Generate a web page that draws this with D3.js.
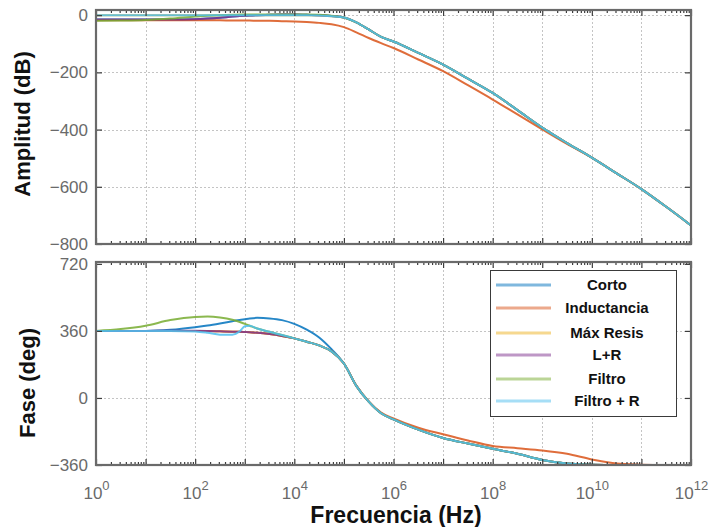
<!DOCTYPE html>
<html>
<head>
<meta charset="utf-8">
<script src="https://cdn.jsdelivr.net/npm/d3@7"></script>
<style>
  html, body { margin: 0; padding: 0; background: #fff; }
  svg { display: block; }
</style>
</head>
<body>
<svg id="chart" width="712" height="527"></svg>
<script>
// ---------- data ----------
const seriesNames = ["Corto", "Inductancia", "Máx Resis", "L+R", "Filtro", "Filtro + R"];
const seriesColors = ["#0072BD", "#D95319", "#EDB120", "#7E2F8E", "#77AC30", "#4DBEEE"];

// frequency exponents (Hz = 10^exp)
const freqExp = [0, 0.5, 1, 1.5, 2, 2.25, 2.5, 2.75, 2.9, 3, 3.1, 3.25, 3.5, 3.75, 4, 4.25, 4.5, 4.75,
                 5, 5.25, 5.5, 5.75, 6, 6.5, 7, 7.5, 8, 8.5, 9, 9.5, 10, 10.5, 11, 11.5, 12];

// Amplitude (dB)
const ampCorto      = [-15,-15,-15,-15,-14,-12,-9,-5,-3,-2,-1,0,1,2,2,1,0,-3,
                       -8,-25,-50,-76,-92,-132,-173,-222,-272,-332,-393,-447,-498,-553,-608,-670,-735];
const ampInductancia= [-18,-18,-18,-18,-18,-18,-18,-19,-19,-19,-19,-20,-20,-21,-22,-24,-27,-32,
                       -42,-60,-80,-98,-115,-155,-196,-245,-295,-347,-399,-450,-498,-553,-608,-670,-735];
const ampMaxResis   = [0,0,0,0,0,0,0,0,0,0,0,0,0,0,0,0,-1,-4,
                       -8,-25,-50,-76,-92,-132,-173,-222,-272,-332,-393,-447,-498,-553,-608,-670,-735];
const ampLR         = [-15,-15,-15,-15,-14,-12,-9,-5,-3,-2,-1,0,1,2,2,1,0,-3,
                       -8,-25,-50,-76,-92,-132,-173,-222,-272,-332,-393,-447,-498,-553,-608,-670,-735];
const ampFiltro     = [-20,-19,-17,-12,-5,-2,0,1,2,2,2,2,2,2,2,2,1,-2,
                       -8,-25,-50,-76,-92,-132,-173,-222,-272,-332,-393,-447,-498,-553,-608,-670,-735];
const ampFiltroR    = [0,0,0,0,0,0,0,0,0,0,0,0,0,0,0,0,-1,-4,
                       -8,-25,-50,-76,-92,-132,-173,-222,-272,-332,-393,-447,-498,-553,-608,-670,-735];

// Phase (deg)
const phCorto       = [360,360,360,366,380,389,400,412,419,423,427,430,427,418,398,367,325,262,
                       185,65,-20,-82,-115,-170,-215,-245,-273,-300,-333,-352,-358,-360,-360,-360,-360];
const phInductancia = [360,360,360,360,360,360,358,356,355,354,353,350,343,333,320,302,282,250,
                       185,66,-18,-78,-110,-160,-195,-228,-258,-270,-282,-300,-330,-352,-358,-360,-360];
const phMaxResis    = [360,360,360,360,360,360,358,356,355,354,353,350,343,333,320,302,282,250,
                       185,65,-20,-82,-115,-170,-215,-245,-273,-300,-333,-352,-358,-360,-360,-360,-360];
const phLR          = [360,360,360,361,361,360,358,356,355,354,353,350,343,333,320,302,282,250,
                       185,65,-20,-82,-115,-170,-215,-245,-273,-300,-333,-352,-358,-360,-360,-360,-360];
const phFiltro      = [360,370,388,418,435,437,432,420,408,398,388,373,355,338,320,302,282,250,
                       185,65,-20,-82,-115,-170,-215,-245,-273,-300,-333,-352,-358,-360,-360,-360,-360];
const phFiltroR     = [360,360,360,360,357,350,340,340,358,385,388,373,355,338,320,302,282,250,
                       185,65,-20,-82,-115,-170,-215,-245,-273,-300,-333,-352,-358,-360,-360,-360,-360];

const ampSeries = [ampCorto, ampInductancia, ampMaxResis, ampLR, ampFiltro, ampFiltroR];
const phSeries  = [phCorto, phInductancia, phMaxResis, phLR, phFiltro, phFiltroR];

const ampTicks = [0, -200, -400, -600, -800];
const phTicks  = [720, 360, 0, -360];
const xLabelExps = [0, 2, 4, 6, 8, 10, 12];

// ---------- layout ----------
const svg = d3.select("#chart");
const X0 = 96, X1 = 691;
const panelTop = {y0: 10, y1: 244};
const panelBot = {y0: 262, y1: 465};

const x = d3.scaleLog().domain([1, 1e12]).range([X0, X1]);
const yAmp = d3.scaleLinear().domain([-800, 18]).range([panelTop.y1, panelTop.y0]);
const yPh  = d3.scaleLinear().domain([-360, 730]).range([panelBot.y1, panelBot.y0]);

const decades = d3.range(0, 13).map(e => Math.pow(10, e));
const minors = [];
for (let e = 0; e < 12; e++) for (let m = 2; m <= 9; m++) minors.push(m * Math.pow(10, e));

const FONT = "'Liberation Sans', Arial, Helvetica, sans-serif";
const TICKCOL = "#6a6a6a";
const FRAMECOL = "#6a6a6a";

const defs = svg.append("defs");
defs.append("clipPath").attr("id", "clipTop").append("rect")
  .attr("x", X0).attr("y", panelTop.y0).attr("width", X1 - X0).attr("height", panelTop.y1 - panelTop.y0);
defs.append("clipPath").attr("id", "clipBot").append("rect")
  .attr("x", X0).attr("y", panelBot.y0).attr("width", X1 - X0).attr("height", panelBot.y1 - panelBot.y0);

function drawPanel(panel, yScale, yTickVals, gridYVals, seriesArr, clipId) {
  const g = svg.append("g");
  g.append("rect").attr("x", X0).attr("y", panel.y0).attr("width", X1 - X0)
    .attr("height", panel.y1 - panel.y0).attr("fill", "#fff");
  // grid
  const grid = g.append("g").attr("stroke", "#c4c4c4").attr("stroke-width", 1)
    .attr("stroke-dasharray", "2,2").attr("fill", "none");
  decades.slice(1, -1).forEach(v => {
    grid.append("line").attr("x1", Math.round(x(v)) + 0.5).attr("x2", Math.round(x(v)) + 0.5)
      .attr("y1", panel.y0).attr("y2", panel.y1);
  });
  gridYVals.forEach(v => {
    grid.append("line").attr("x1", X0).attr("x2", X1)
      .attr("y1", Math.round(yScale(v)) + 0.5).attr("y2", Math.round(yScale(v)) + 0.5);
  });
  // curves
  const line = d3.line()
    .x((d, i) => x(Math.pow(10, freqExp[i])))
    .y(d => yScale(d))
    .curve(d3.curveMonotoneX);
  const lg = g.append("g").attr("clip-path", `url(#${clipId})`);
  seriesArr.forEach((s, k) => {
    lg.append("path").datum(s).attr("d", line).attr("fill", "none")
      .attr("stroke", seriesColors[k]).attr("stroke-width", 2)
      .attr("stroke-opacity", 0.85).attr("stroke-linejoin", "round");
  });
  // axes ticks (inward)
  const styleAxis = sel => {
    sel.select(".domain").remove();
    sel.selectAll(".tick line").attr("stroke", "#3c3c3c").attr("stroke-width", 1.2);
    sel.selectAll("text").attr("font-family", FONT).attr("font-size", 17).attr("fill", TICKCOL);
  };
  g.append("g").attr("transform", `translate(${X0},0)`)
    .call(d3.axisLeft(yScale).tickValues(yTickVals).tickSize(-6).tickPadding(8).tickFormat(d3.format("d")))
    .call(styleAxis);
  g.append("g").attr("transform", `translate(${X1},0)`)
    .call(d3.axisRight(yScale).tickValues(yTickVals).tickSize(-6).tickFormat(""))
    .call(styleAxis);
  [["b", panel.y1], ["t", panel.y0]].forEach(([side, yy]) => {
    const mk = side === "b" ? d3.axisBottom : d3.axisTop;
    g.append("g").attr("transform", `translate(0,${yy})`)
      .call(mk(x).tickValues(minors).tickSize(-3).tickFormat(""))
      .call(styleAxis);
    g.append("g").attr("transform", `translate(0,${yy})`)
      .call(mk(x).tickValues(decades).tickSize(-6).tickFormat(""))
      .call(styleAxis);
  });
  // frame
  g.append("rect").attr("x", X0).attr("y", panel.y0).attr("width", X1 - X0)
    .attr("height", panel.y1 - panel.y0).attr("fill", "none")
    .attr("stroke", FRAMECOL).attr("stroke-width", 2.2);
  return g;
}

drawPanel(panelTop, yAmp, ampTicks, [0, -200, -400, -600], ampSeries, "clipTop");
drawPanel(panelBot, yPh, phTicks, [360, 0], phSeries, "clipBot");

// x tick labels with superscripts
const xl = svg.append("g").attr("transform", `translate(0,${panelBot.y1})`)
  .call(d3.axisBottom(x).tickValues(xLabelExps.map(e => Math.pow(10, e))).tickSize(0).tickFormat(""));
xl.select(".domain").remove();
xl.selectAll(".tick").each(function(d) {
  const e = Math.round(Math.log10(d));
  const t = d3.select(this).append("text")
    .attr("x", 0).attr("y", 34)
    .attr("text-anchor", "middle")
    .attr("font-family", FONT).attr("fill", TICKCOL).attr("font-size", 17);
  t.append("tspan").text("10");
  t.append("tspan").attr("dy", -9).attr("font-size", 13).text(String(e));
});

// axis titles
svg.append("text").attr("transform", "translate(30,124) rotate(-90)")
  .attr("text-anchor", "middle").attr("font-family", FONT).attr("font-weight", "bold")
  .attr("font-size", 22).attr("fill", "#111").text("Amplitud (dB)");
svg.append("text").attr("transform", "translate(35,383) rotate(-90)")
  .attr("text-anchor", "middle").attr("font-family", FONT).attr("font-weight", "bold")
  .attr("font-size", 22).attr("fill", "#111").text("Fase (deg)");
svg.append("text").attr("x", 396).attr("y", 523)
  .attr("text-anchor", "middle").attr("font-family", FONT).attr("font-weight", "bold")
  .attr("font-size", 23).attr("fill", "#111").text("Frecuencia (Hz)");

// legend
const legYs = [285, 308, 333, 355, 379, 401];
const leg = svg.append("g");
leg.append("rect").attr("x", 490.5).attr("y", 270.5).attr("width", 186).attr("height", 146)
  .attr("fill", "#fff").attr("stroke", "#3a3a3a").attr("stroke-width", 1);
seriesNames.forEach((name, k) => {
  leg.append("line").attr("x1", 496).attr("x2", 551).attr("y1", legYs[k]).attr("y2", legYs[k])
    .attr("stroke", seriesColors[k]).attr("stroke-width", 3).attr("stroke-opacity", 0.5);
  leg.append("text").attr("x", 607).attr("y", legYs[k]).attr("dy", "0.35em")
    .attr("text-anchor", "middle").attr("font-family", FONT).attr("font-weight", "bold")
    .attr("font-size", 15).attr("fill", "#111").text(name);
});
</script>
</body>
</html>
